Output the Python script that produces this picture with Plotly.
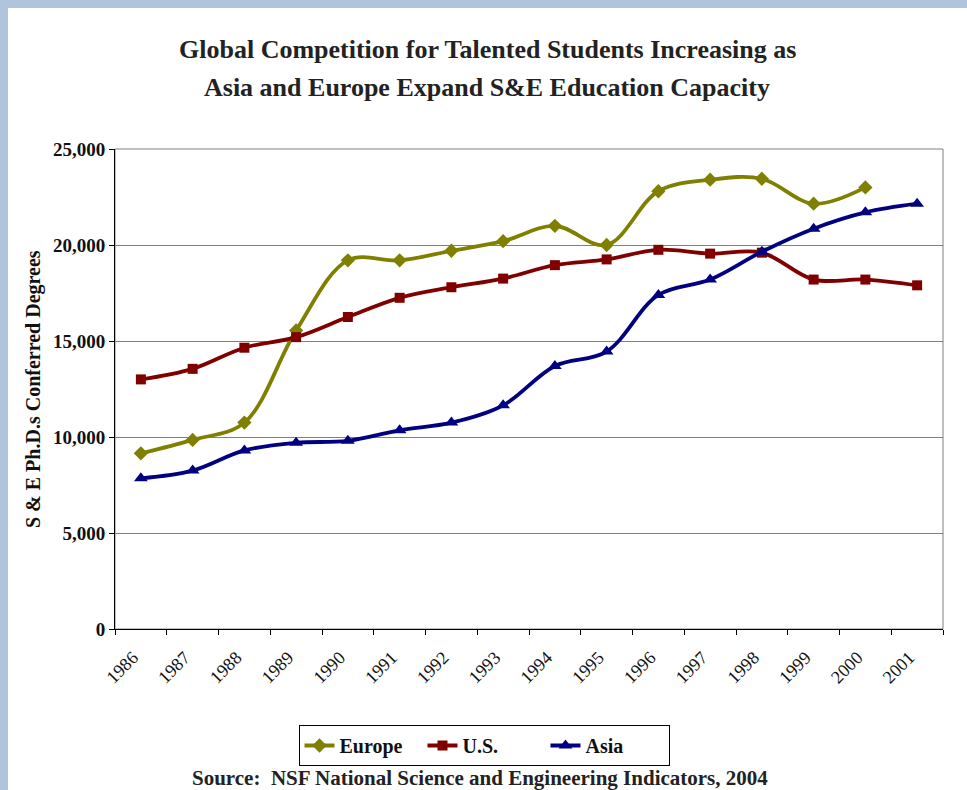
import plotly.graph_objects as go

years = [str(y) for y in range(1986, 2002)]
europe = [9150, 9850, 10750, 15550, 19200, 19200, 19700, 20200, 21000, 20000,
          22800, 23400, 23450, 22150, 23000]
us = [13000, 13550, 14650, 15200, 16250, 17250, 17800, 18250, 18950, 19250,
      19750, 19550, 19600, 18200, 18200, 17900]
asia = [7850, 8250, 9300, 9700, 9800, 10350, 10750, 11650, 13700, 14450,
        17400, 18200, 19650, 20850, 21700, 22150]

W, H = 967, 790
L, R, T, B = 115, 24, 149, 161
PW, PH = W - L - R, H - T - B

def px(x):
    return (x - L) / PW

def py(y):
    return (H - B - y) / PH

FONT = "Liberation Serif"

fig = go.Figure()
series = [
    ("Europe", europe, "#808000", "diamond", 11),
    ("U.S.", us, "#800000", "square", 10),
    ("Asia", asia, "#000080", "triangle-up", 12),
]
for name, vals, col, sym, sz in series:
    fig.add_trace(go.Scatter(
        x=years[:len(vals)], y=vals, name=f"<b>{name}</b>", mode="lines+markers",
        line=dict(color=col, width=3.8, shape="spline", smoothing=1.0),
        marker=dict(symbol=sym, size=sz, color=col),
    ))

shapes = [
    dict(type="rect", xref="paper", yref="paper", x0=0, x1=1, y0=0, y1=1,
         line=dict(color="#808080", width=1), fillcolor="rgba(0,0,0,0)", layer="below"),
    dict(type="rect", xref="paper", yref="paper", x0=px(0), x1=px(8), y0=py(H), y1=py(0),
         line=dict(width=0), fillcolor="#B0C4DE", layer="above"),
    dict(type="rect", xref="paper", yref="paper", x0=px(0), x1=px(W), y0=py(8), y1=py(0),
         line=dict(width=0), fillcolor="#B0C4DE", layer="above"),
]

annotations = [
    dict(text="<b>Global Competition for Talented Students Increasing as</b>",
         xref="paper", yref="paper", x=px(487), y=py(50), showarrow=False,
         xanchor="center", yanchor="middle", font=dict(family=FONT, size=26, color="#222")),
    dict(text="<b>Asia and Europe Expand S&E Education Capacity</b>",
         xref="paper", yref="paper", x=px(487), y=py(87), showarrow=False,
         xanchor="center", yanchor="middle", font=dict(family=FONT, size=26, color="#222")),
    dict(text="<b>Source:  NSF National Science and Engineering Indicators, 2004</b>",
         xref="paper", yref="paper", x=px(480), y=py(778), showarrow=False,
         xanchor="center", yanchor="middle", font=dict(family=FONT, size=21, color="#222")),
    dict(text="<b>S & E Ph.D.s Conferred Degrees</b>", textangle=-90,
         xref="paper", yref="paper", x=px(33), y=py(389), showarrow=False,
         xanchor="center", yanchor="middle", font=dict(family=FONT, size=20, color="#111")),
]

fig.update_layout(
    width=W, height=H,
    margin=dict(l=L, r=R, t=T, b=B, autoexpand=False),
    paper_bgcolor="white", plot_bgcolor="white",
    font=dict(family=FONT, color="#111"),
    showlegend=True,
    legend=dict(orientation="h", x=px(484), xanchor="center", y=py(725), yanchor="top",
                bordercolor="black", borderwidth=1, bgcolor="white",
                font=dict(family=FONT, size=20, color="#111"),
                itemwidth=30, traceorder="normal",
                entrywidth=78, entrywidthmode="pixels"),
    shapes=shapes, annotations=annotations,
    xaxis=dict(type="category", range=[-0.5, 15.5], showgrid=False,
               showline=True, linecolor="black", linewidth=1,
               ticks="outside", tickson="boundaries", ticklen=5, tickcolor="black",
               tickangle=-45, ticklabelstandoff=10, ticklabelshift=-8,
               tickfont=dict(family=FONT, size=18, color="#111")),
    yaxis=dict(range=[0, 25000], tickvals=[0, 5000, 10000, 15000, 20000, 25000],
               ticktext=["<b>0</b>", "<b>5,000</b>", "<b>10,000</b>", "<b>15,000</b>",
                         "<b>20,000</b>", "<b>25,000</b>"],
               showgrid=True, gridcolor="#808080", gridwidth=1,
               showline=True, linecolor="black", linewidth=1, zeroline=False,
               ticks="outside", ticklen=5, tickcolor="black",
               tickfont=dict(family=FONT, size=19, color="#111")),
)

fig.write_html("out.html", config={"displayModeBar": False},
               post_script="document.body.style.margin='0px';")
